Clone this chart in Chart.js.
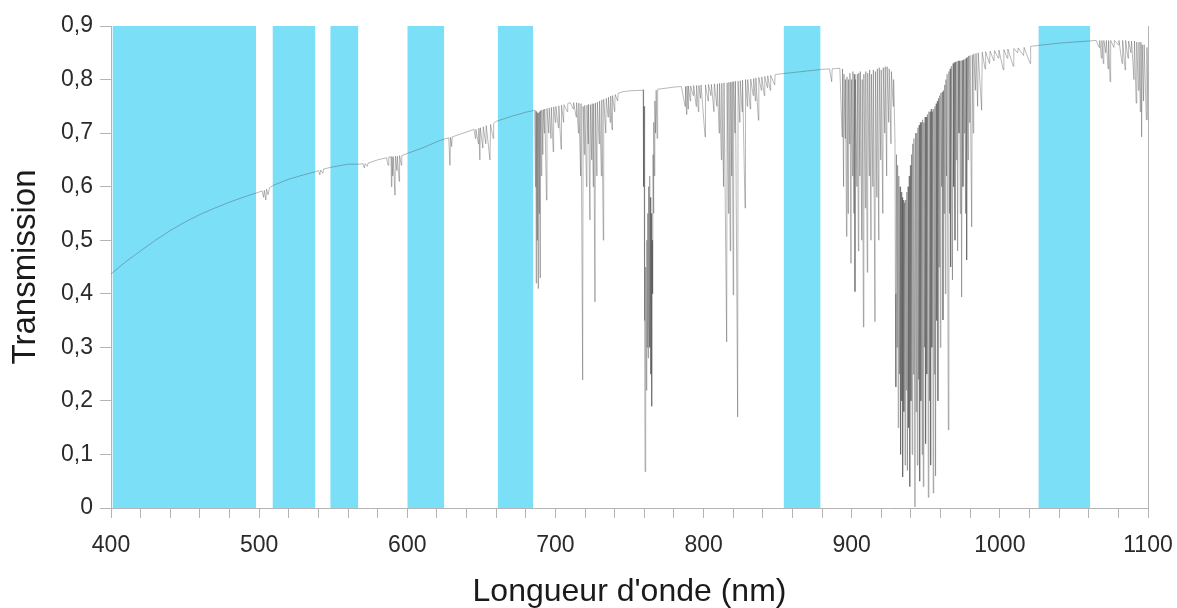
<!DOCTYPE html>
<html>
<head>
<meta charset="utf-8">
<script src="https://cdn.jsdelivr.net/npm/chart.js@4.4.1/dist/chart.umd.min.js"></script>
<style>
  body { margin: 0; background: #fff; }
  #wrap { width: 1177px; height: 608px; }
</style>
</head>
<body>
<div id="wrap"><canvas id="chart" width="1177" height="608"></canvas></div>
<script>
// bandes (nm)
const bandStart = [401, 509, 548, 600, 661, 854, 1026];
const bandEnd   = [498, 538, 567, 625, 685, 879, 1061];

// spectre de transmission, [longueur d'onde nm, transmission]
const specVisible = [[400,.437],[410,.46],[420,.48],[430,.50],[440,.518],[450,.534],[460,.548],[470,.56],[480,.571],[490,.581],[500,.590],
  [502,.592],[503,.58],[503.5,.593],[504.5,.575],[505,.595],[506,.585],[507,.598],[510,.603],[520,.614],[530,.622],[538,.628],
  [540,.63],[541,.622],[541.5,.631],[543,.625],[543.5,.633],[550,.637],[560,.642],[568,.642],[570,.643],[571,.635],[571.5,.643],
  [573,.638],[573.5,.644],[580,.650],[586,.654],[587,.640],[587.5,.655],[589,.656],[589.3,.600],[589.6,.656],[590.2,.62],[590.5,.656],
  [591.7,.584],[592,.657],[593,.63],[593.3,.657],[594.5,.61],[594.8,.658],[596,.64],[596.3,.658],[600,.662],[610,.672],[620,.684],
  [625,.689],[628,.691],[628.8,.640],[629.2,.692],[630,.675],[630.3,.693],[640,.702],[645,.707],[646,.69],[646.3,.707],[648,.68],
  [648.3,.709],[649,.65],[649.3,.710],[651,.672],[651.3,.712],[653,.68],[653.3,.714],[655.8,.65],[656.2,.716],[658,.69],[658.3,.718],
  [660,.722],[670,.731],[680,.739],[685,.742]];

const specRed = [[686,.743],[686.5,.60],[686.8,.742],[687,.42],[687.3,.74],[687.6,.50],[687.9,.738],[688.3,.41],[688.6,.738],[689,.55],
  [689.3,.74],[689.6,.43],[689.9,.742],[690.5,.62],[690.8,.743],[691.5,.66],[691.8,.744],[692.5,.70],[692.8,.745],[694,.575],[694.3,.746],
  [695.5,.70],[695.8,.747],[697,.69],[697.3,.748],[698.5,.665],[698.8,.749],[700,.72],[700.3,.75],[702,.71],[702.3,.751],[703.8,.67],
  [704.1,.752],[705.5,.72],[705.8,.753],[708,.74],[708.3,.755],[710,.757],[712,.745],[712.3,.757],[714,.73],[714.3,.757],[715.5,.70],
  [715.8,.756],[717,.62],[717.3,.755],[718.4,.239],[718.7,.75],[719.5,.66],[719.8,.752],[721,.60],[721.3,.752],[722,.68],[722.3,.754],
  [723.3,.538],[723.6,.753],[724.5,.65],[724.8,.755],[725.5,.60],[725.8,.755],[726.7,.385],[727,.756],[728,.62],[728.3,.758],[729.5,.68],
  [729.8,.76],[731,.62],[731.3,.762],[732.3,.50],[732.6,.763],[734,.70],[734.3,.765],[735.5,.73],[735.8,.767],[737,.72],[737.3,.769],
  [738.2,.706],[738.5,.77],[740,.74],[740.3,.772],[742,.76],[742.3,.774],[745,.777],[750,.779],[759,.780]];

const specO2A = [[759.2,.781],[759.5,.60],[759.8,.75],[760.2,.35],[760.5,.068],[760.8,.30],[761.1,.45],[761.4,.22],[761.7,.50],[762,.30],
  [762.3,.55],[762.6,.28],[762.9,.60],[763.2,.35],[763.5,.62],[763.8,.30],[764.1,.58],[764.4,.25],[764.7,.55],[765,.19],[765.3,.50],
  [765.6,.40],[765.9,.66],[766.2,.55],[766.5,.72],[766.8,.62],[767.1,.76],[767.6,.70],[768,.78],[768.6,.69],[769,.782],[775,.784]];

const specNir = [[780,.786],[785,.787],[787.5,.75],[787.8,.787],[788.5,.735],[788.8,.788],[789.5,.745],[789.8,.788],[791,.76],[791.3,.788],
  [793,.77],[793.3,.789],[795,.75],[795.3,.789],[796.5,.74],[796.8,.789],[798,.765],[798.3,.79],[801,.693],[801.3,.79],[803,.76],[803.3,.791],
  [805,.77],[805.3,.791],[807,.74],[807.3,.792],[809,.75],[809.3,.792],[810.5,.70],[810.8,.793],[812,.65],[812.3,.793],[813.5,.60],
  [813.8,.794],[815.6,.31],[815.9,.794],[816.8,.55],[817.1,.795],[818,.48],[818.3,.795],[819,.62],[819.3,.796],[820,.398],[820.3,.796],
  [821.2,.70],[821.5,.797],[823,.17],[823.3,.797],[824.5,.72],[824.8,.798],[826,.74],[826.3,.799],[828,.56],[828.3,.80],[829.5,.75],
  [829.8,.80],[831.5,.745],[831.8,.801],[833.5,.77],[833.8,.802],[835,.76],[835.3,.803],[837,.724],[837.3,.804],[839,.78],[839.3,.805],
  [841,.77],[841.3,.806],[843,.785],[843.3,.807],[845,.78],[845.3,.808],[848,.79],[848.3,.809],[850,.81],[860,.813],[870,.816],
  [880,.819],[885,.82],[886.5,.796],[886.8,.82],[892,.821]];

const specH2O = [[893.5,.693],[893.8,.82],[894.5,.60],[894.8,.81],[895.5,.69],[895.8,.80],[896.5,.507],[896.8,.805],[897.5,.55],[897.8,.80],
  [898.5,.68],[898.8,.812],[899.5,.457],[899.8,.80],[900.5,.62],[900.8,.815],[901.5,.55],[901.8,.81],[902.2,.404],[902.5,.80],[903.5,.60],
  [903.8,.81],[904.5,.48],[904.8,.812],[905.5,.62],[905.8,.815],[906.8,.50],[907.1,.80],[907.9,.338],[908.2,.81],[909.2,.56],[909.5,.815],
  [910.5,.44],[910.8,.812],[911.8,.62],[912.1,.818],[913,.50],[913.3,.81],[914.3,.60],[914.6,.818],[915.7,.348],[916,.815],[917,.58],
  [917.3,.82],[918.3,.50],[918.6,.822],[919.6,.65],[919.9,.818],[921,.55],[921.3,.822],[922.3,.70],[922.6,.824],[923.6,.62],[923.9,.824],
  [925,.72],[925.3,.82],[926.5,.68],[926.8,.815],[928,.75],[928.3,.80],
  [929.2,.687],[929.5,.40],[929.8,.226],[930.2,.66],[930.6,.30],[931,.64],[931.4,.15],[931.8,.62],[932.2,.25],[932.6,.60],[933,.10],
  [933.4,.59],[933.8,.20],[934.2,.58],[934.4,.058],[934.8,.575],[935.2,.18],[935.6,.57],[936,.08],[936.4,.575],[936.8,.22],[937.2,.59],
  [937.6,.07],[938,.60],[938.4,.15],[938.8,.62],[939.2,.04],[939.6,.64],[940,.20],[940.4,.66],[940.8,.10],[941.2,.68],[941.6,.25],
  [942,.69],[942.7,.002],[943.1,.70],[943.5,.18],[943.9,.70],[944.3,.08],[944.7,.71],[945.1,.24],[945.5,.715],[945.9,.05],[946.3,.72],
  [946.7,.20],[947.1,.72],[947.5,.10],[947.9,.725],[948.3,.04],[948.7,.72],[949.1,.30],[949.5,.73],[949.9,.12],[950.3,.73],[950.7,.25],
  [951.1,.735],[951.7,.02],[952.1,.74],[952.5,.20],[952.9,.74],[953.3,.08],[953.7,.745],[954.1,.30],[954.5,.74],[955,.028],[955.4,.745],
  [955.8,.25],[956.2,.75],[956.6,.06],[957,.755],[957.4,.35],[957.8,.76],[958.2,.20],[958.6,.765],[959,.45],[959.4,.77],[959.8,.30],
  [960.2,.775],[960.7,.60],[961.1,.777],[961.6,.351],[962,.78],[962.4,.55],[962.8,.79],[963.2,.40],[963.6,.80],[964,.62],[964.4,.81],
  [965.2,.146],[965.6,.815],[966,.55],[966.4,.82],[966.8,.45],[967.2,.825],[968,.426],[968.4,.83],[968.8,.60],[969.2,.832],[969.7,.50],
  [970.1,.833],[970.6,.65],[971,.834],[971.5,.48],[971.9,.835],[972.4,.70],[972.8,.835],[973.3,.55],[973.7,.835],[974.2,.394],[974.6,.836],
  [975.1,.60],[975.5,.837],[976,.70],[976.4,.838],[976.8,.55],[977.2,.84],[977.6,.463],[978,.842],[978.5,.65],[978.9,.844],[979.4,.72],
  [979.8,.845],[981,.525],[981.4,.846],[982,.70],[982.4,.848],[983.5,.78],[983.9,.849],[985,.75],[985.4,.85],[987.7,.743],[988.1,.851],
  [990,.82],[990.4,.852],[993,.83],[993.4,.853],[996,.835],[996.4,.854],[999,.84],[999.4,.855]];

const specIR = [[1002.3,.818],[1002.7,.856],[1005,.84],[1005.4,.857],[1009,.825],[1009.4,.858],[1012,.85],[1012.4,.859],[1016,.845],
  [1016.4,.86],[1020.4,.83],[1020.8,.862],[1030,.865],[1040,.868],[1050,.870],[1060,.872],[1065,.873],[1067,.86],[1067.4,.873],
  [1068.5,.84],[1068.9,.873],[1069.8,.83],[1070.2,.873],[1071.5,.85],[1071.9,.873],[1073,.82],[1073.4,.873],[1074.4,.796],[1074.8,.873],
  [1077,.86],[1077.4,.873],[1080,.865],[1080.4,.873],[1082.5,.83],[1082.9,.873],[1084.5,.818],[1084.9,.873],[1086.5,.84],[1086.9,.872],
  [1088.5,.85],[1088.9,.872],[1090.5,.80],[1090.9,.872],[1092,.756],[1092.4,.87],[1093.5,.78],[1093.9,.87],[1094.8,.74],[1095.2,.87],
  [1095.7,.693],[1096.1,.865],[1097,.76],[1097.4,.865],[1098.9,.725],[1099.3,.86],[1100,.724]];

const spectrum = [].concat(specVisible, specRed, specO2A, specNir, specH2O, specIR);

const bandTop = 0.9;
const bandColor = '#7bdff8';
const axisColor = '#b4b4b4';
const fontFamily = '"Liberation Sans", Arial, sans-serif';

let datasets = [{
  label: 'Transmission',
  data: spectrum,
  borderColor: 'rgba(70,70,70,0.55)',
  borderWidth: 0.7,
  borderJoinStyle: 'bevel',
  pointRadius: 0,
  tension: 0,
  fill: false,
  order: 0
}];
bandStart.forEach(function(s, i) {
  datasets.push({
    data: [[s, bandTop], [bandEnd[i], bandTop]],
    borderWidth: 0,
    pointRadius: 0,
    backgroundColor: bandColor,
    fill: 'origin',
    order: 1
  });
});

new Chart(document.getElementById('chart'), {
  type: 'line',
  data: { datasets: datasets },
  options: {
    responsive: false,
    animation: false,
    layout: { padding: { left: 0, right: 29, top: 26, bottom: 0 } },
    plugins: { legend: { display: false }, tooltip: { enabled: false } },
    scales: {
      x: {
        type: 'linear', min: 400, max: 1100,
        afterFit: function(s) { s.height = 100; s.paddingLeft = 0; s.paddingRight = 0; },
        ticks: {
          stepSize: 20, autoSkip: false, maxRotation: 0, padding: 14,
          color: '#2a2a2a', font: { family: fontFamily, size: 23 },
          callback: function(v) { return v % 100 === 0 ? String(v) : ''; }
        },
        grid: { drawOnChartArea: false, drawTicks: true, tickLength: 10, color: axisColor },
        border: { display: true, color: axisColor },
        title: {
          display: true, text: "Longueur d'onde (nm)", color: '#1a1a1a', padding: 0,
          font: { family: fontFamily, size: 32, lineHeight: 1 }
        }
      },
      y: {
        min: 0, max: 0.9,
        afterFit: function(s) { s.width = 111; s.paddingTop = 0; s.paddingBottom = 0; },
        ticks: {
          stepSize: 0.1, padding: 7,
          color: '#2a2a2a', font: { family: fontFamily, size: 23 },
          callback: function(v) { return v === 0 ? '0' : v.toFixed(1).replace('.', ','); }
        },
        grid: { drawOnChartArea: false, drawTicks: true, tickLength: 11, color: axisColor },
        border: { display: true, color: axisColor },
        title: {
          display: true, text: 'Transmission', color: '#1a1a1a', padding: 9,
          font: { family: fontFamily, size: 33, lineHeight: 1 }
        }
      },
      y2: {
        position: 'right', min: 0, max: 0.9,
        afterFit: function(s) { s.width = 0; },
        ticks: { display: false },
        grid: { drawOnChartArea: false, drawTicks: false },
        border: { display: true, color: axisColor }
      }
    }
  }
});
</script>
</body>
</html>
